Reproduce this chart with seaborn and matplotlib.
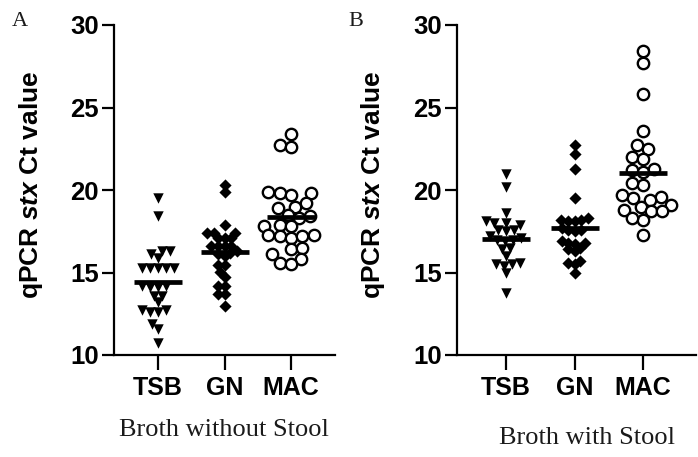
import pandas as pd
import matplotlib
matplotlib.use('Agg')
import matplotlib.pyplot as plt
import seaborn as sns

media = ['TSB', 'GN', 'MAC']

# A: broth without stool (Ct values)
tsb_a = [19.5, 18.4, 16.3, 16.3, 16.1, 15.9, 15.3, 15.3, 15.3, 15.3, 15.3,
         14.2, 14.1, 14.1, 14.2, 13.2, 13.6, 13.6, 12.7, 12.6, 12.6, 12.7,
         11.9, 11.55, 10.7]
gn_a = [20.3, 19.9, 17.9, 17.4, 17.4, 17.4, 17.1, 17.1, 17.1, 16.6, 16.6,
        16.6, 16.6, 16.2, 16.3, 16.1, 16.0, 15.45, 15.45, 15.05, 14.75, 14.2,
        14.2, 13.7, 13.7, 13.0]
mac_a = [23.4, 22.7, 22.6, 19.8, 19.9, 19.8, 19.7, 19.2, 19.0, 18.9, 18.4,
         18.3, 18.5, 17.9, 17.8, 17.8, 17.2, 17.3, 17.1, 17.2, 17.3, 16.4,
         16.5, 15.6, 15.8, 16.1, 15.5]

# B: broth with stool
tsb_b = [21.0, 20.2, 18.6, 18.0, 18.1, 17.9, 18.0, 17.6, 17.5, 17.6, 17.2,
         17.1, 17.0, 16.9, 17.0, 16.4, 16.5, 16.0, 15.5, 15.4, 15.6, 15.5,
         14.95, 13.75]
gn_b = [22.7, 22.2, 21.25, 19.5, 18.1, 18.2, 18.3, 18.2, 18.1, 17.7, 17.6,
        17.5, 17.6, 16.9, 16.8, 16.7, 16.8, 16.3, 16.5, 16.4, 15.6, 15.5,
        15.7, 15.0]
mac_b = [28.4, 27.7, 25.8, 23.6, 22.5, 22.7, 22.0, 21.9, 21.2, 21.1, 21.3,
         20.3, 20.4, 19.6, 19.5, 19.7, 19.4, 19.1, 19.0, 18.7, 18.7, 18.8,
         18.2, 18.3, 17.3]

panel_a = {'TSB': tsb_a, 'GN': gn_a, 'MAC': mac_a}
panel_b = {'TSB': tsb_b, 'GN': gn_b, 'MAC': mac_b}


def to_long(d):
    rows = [(k, v) for k in media for v in d[k]]
    return pd.DataFrame(rows, columns=['medium', 'ct'])


sns.set_style('ticks')
plt.rcParams['font.family'] = ['Liberation Sans', 'DejaVu Sans']
plt.rcParams['text.color'] = 'black'
plt.rcParams['xtick.color'] = 'black'
plt.rcParams['ytick.color'] = 'black'
plt.rcParams['axes.edgecolor'] = 'black'
plt.rcParams['mathtext.fontset'] = 'custom'
plt.rcParams['mathtext.it'] = 'Liberation Sans:italic:bold'
plt.rcParams['mathtext.rm'] = 'Liberation Sans:bold'

fig = plt.figure(figsize=(6.98, 4.57), dpi=100)
ax_a = fig.add_axes([114 / 698, 1 - 355 / 457, 221 / 698, 330 / 457])
ax_b = fig.add_axes([457 / 698, 1 - 355 / 457, 239 / 698, 330 / 457])

markers = {'TSB': 'v', 'GN': 'D', 'MAC': 'o'}
# swarm is laid out with smaller markers, then drawn bigger (points overlap like the original)
layout_size = {'TSB': 5.6, 'GN': 4.6, 'MAC': 6.2}
draw_size = {'TSB': 7.5, 'GN': 6.2, 'MAC': 8.2}

swarms = []
for ax, d, xl in [(ax_a, panel_a, (-0.66, 2.66)), (ax_b, panel_b, (-0.715, 2.77))]:
    df = to_long(d)
    for m in media:
        sub = df[df.medium == m]
        n0 = len(ax.collections)
        if m == 'MAC':
            sns.swarmplot(data=sub, x='medium', y='ct', order=media, ax=ax,
                          marker='o', color='white', edgecolor='black',
                          linewidth=1.7, size=layout_size[m])
        else:
            sns.swarmplot(data=sub, x='medium', y='ct', order=media, ax=ax,
                          marker=markers[m], color='black', size=layout_size[m])
        for c in ax.collections[n0:]:
            swarms.append((c, m))
    # mean line, on top of the points
    sns.pointplot(data=df, x='medium', y='ct', order=media, ax=ax,
                  estimator='mean', errorbar=None, color='black',
                  linestyles='none', markers='_', markersize=34,
                  markeredgewidth=3.4, zorder=10)
    ax.set_xlim(*xl)
    ax.set_ylim(10, 30)
    ax.set_yticks([10, 15, 20, 25, 30])
    ax.set_xlabel('')
    ax.set_ylabel('')
    for s in ['top', 'right']:
        ax.spines[s].set_visible(False)
    for s in ['left', 'bottom']:
        ax.spines[s].set_linewidth(1.6)
    ax.tick_params(axis='y', length=9, width=1.6, labelsize=18.5, pad=2)
    ax.tick_params(axis='x', length=11, width=1.6, labelsize=18, pad=4)
    for lab in ax.get_xticklabels() + ax.get_yticklabels():
        lab.set_fontweight('bold')

# fix the swarm positions, then enlarge the markers
fig.canvas.draw()
for c, m in swarms:
    if 'draw' in c.__dict__:
        del c.draw
    c.set_sizes([draw_size[m] ** 2])

ylab = r'qPCR $\it{stx}$ Ct value'
fig.text(31 / 698, 1 - 185 / 457, ylab, rotation=90, ha='center', va='center',
         fontsize=19, fontweight='bold')
fig.text(373 / 698, 1 - 185 / 457, ylab, rotation=90, ha='center', va='center',
         fontsize=19, fontweight='bold')

fig.text(224 / 698, 1 - 430 / 457, 'Broth without Stool', ha='center',
         va='center', fontsize=19, family='Liberation Serif', color='#1a1a1a')
fig.text(587 / 698, 1 - 438 / 457, 'Broth with Stool', ha='center',
         va='center', fontsize=19, family='Liberation Serif', color='#1a1a1a')

fig.text(20 / 698, 1 - 21 / 457, 'A', ha='center', va='center', fontsize=16,
         family='Liberation Serif', color='#1a1a1a')
fig.text(356 / 698, 1 - 21 / 457, 'B', ha='center', va='center', fontsize=16,
         family='Liberation Serif', color='#1a1a1a')

plt.savefig('out.png', dpi=100)
